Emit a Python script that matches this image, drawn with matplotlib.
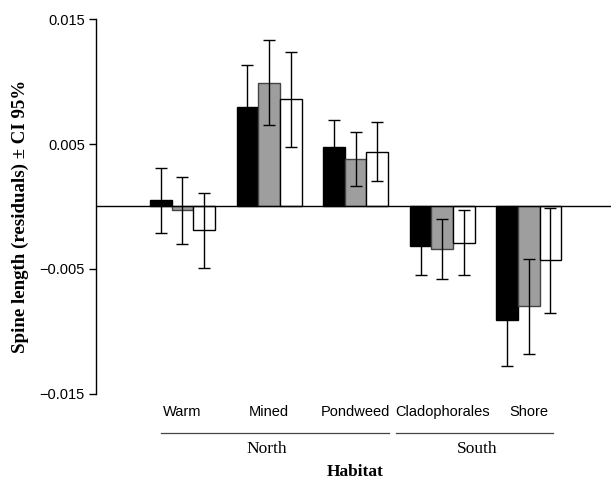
import matplotlib
matplotlib.use("Agg")
import matplotlib.pyplot as plt
import numpy as np

habitats = ["Warm", "Mined", "Pondweed", "Cladophorales", "Shore"]
regions = ["North", "South"]

# residual means for the three groups (black, grey, white bars)
mean_black = [0.0005, 0.0080, 0.0048, -0.0032, -0.0091]
mean_grey = [-0.0003, 0.0099, 0.0038, -0.0034, -0.0080]
mean_white = [-0.0019, 0.0086, 0.0044, -0.0029, -0.0043]

# 95% CI half widths
ci_black = [0.0026, 0.0033, 0.0021, 0.0023, 0.0037]
ci_grey = [0.0027, 0.0034, 0.0022, 0.0024, 0.0038]
ci_white = [0.0030, 0.0038, 0.0024, 0.0026, 0.0042]

serif = ["Liberation Serif", "DejaVu Serif"]
sans = ["Liberation Sans", "DejaVu Sans"]

fig = plt.figure(figsize=(6.11, 4.79), dpi=100)
ax = fig.add_axes([0.157, 0.1775, 0.843, 0.7828])

x = np.arange(len(habitats))
w = 0.25
series = [(mean_black, ci_black, "black", "black"),
          (mean_grey, ci_grey, "#9e9e9e", "#444444"),
          (mean_white, ci_white, "white", "black")]
for i, (m, ci, fc, ec) in enumerate(series):
    xs = x + (i - 1) * w
    ax.bar(xs, m, width=w, color=fc, edgecolor=ec, linewidth=1.0, zorder=2)
    ax.errorbar(xs, m, yerr=ci, fmt="none", ecolor="black",
                elinewidth=1.0, capsize=4, capthick=1.0, zorder=3)

ax.axhline(0, color="black", linewidth=1.0, zorder=4)

ax.set_xlim(-1, 4.95)
ax.set_ylim(-0.015, 0.015)
ax.set_yticks([0.015, 0.005, -0.005, -0.015])
ax.set_yticklabels(["0.015", "0.005", "\u22120.005", "\u22120.015"],
                   family=sans, fontsize=10.5)
ax.tick_params(axis="y", direction="out", length=5, width=1, pad=3)

ax.set_xticks(x)
ax.set_xticklabels(habitats, family=sans, fontsize=10.5)
ax.tick_params(axis="x", length=0, pad=8)

for s in ["top", "right", "bottom"]:
    ax.spines[s].set_visible(False)
ax.spines["left"].set_linewidth(1.0)

# region brackets under the category labels
trans = ax.get_xaxis_transform()
ax.plot([-0.25, 2.39], [-0.103, -0.103], color="#444444", lw=0.9,
        transform=trans, clip_on=False)
ax.plot([2.47, 4.28], [-0.103, -0.103], color="#444444", lw=0.9,
        transform=trans, clip_on=False)
ax.text(0.97, -0.147, regions[0], transform=trans, ha="center", va="center",
        family=serif, fontsize=12.5)
ax.text(3.40, -0.147, regions[1], transform=trans, ha="center", va="center",
        family=serif, fontsize=12.5)
ax.text(2.0, -0.207, "Habitat", transform=trans, ha="center",
        va="center", family=serif, fontsize=12.5, fontweight="bold")

fig.text(20 / 611, 1 - 216 / 479, "Spine length (residuals) \u00b1 CI 95%",
         rotation=90, ha="center", va="center", family=serif,
         fontsize=13.6, fontweight="bold")

fig.savefig("out.png", dpi=100)
